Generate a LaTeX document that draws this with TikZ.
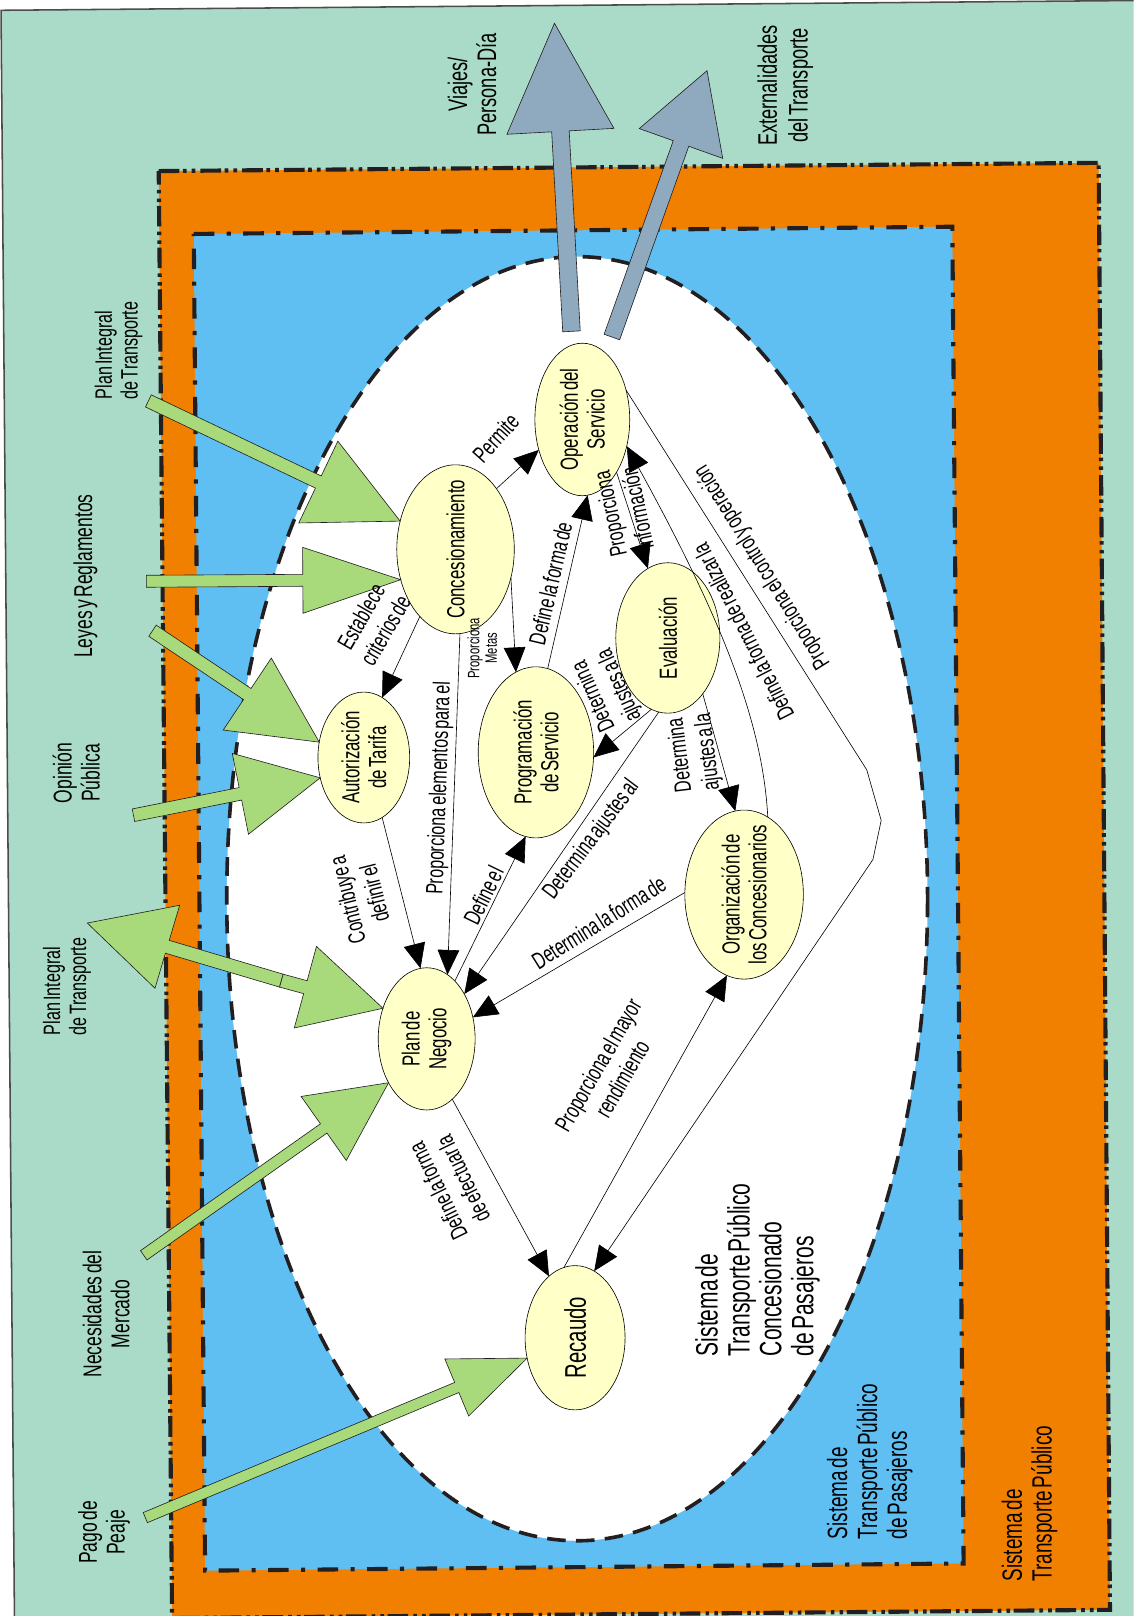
\documentclass[tikz,border=0pt]{standalone}
\usepackage{fontspec}
\newfontfamily\cf[FakeStretch=0.68,WordSpace=0.5]{Liberation Sans}
\usetikzlibrary{arrows.meta,calc,shapes.geometric}
\definecolor{bggreen}{HTML}{A9DBC8}
\definecolor{orng}{HTML}{F28000}
\definecolor{blu}{HTML}{5FBEF2}
\definecolor{nodey}{HTML}{FFFFC8}
\definecolor{garr}{HTML}{A8DA7C}
\definecolor{barr}{HTML}{8FAABE}
\definecolor{ink}{HTML}{231F20}
% #1 style, #2 tail, #3 tip, #4 shaft half width, #5 head half width, #6 head length, #7 name
\newcommand\bigarrow[7]{%
  \coordinate (#7b) at ($(#3)!#6!(#2)$);
  \filldraw[#1] ($(#2)!#4!90:(#3)$) -- ($(#7b)!#4!-90:(#2)$) -- ($(#7b)!#5!-90:(#2)$) -- (#3)
    -- ($(#7b)!#5!90:(#2)$) -- ($(#7b)!#4!90:(#2)$) -- ($(#2)!#4!-90:(#3)$) -- cycle;}
\begin{document}
\begin{tikzpicture}[x=1pt,y=-1pt,
  ell/.style={ellipse, draw=black, line width=0.6pt, fill=nodey, inner sep=0pt, outer sep=0pt},
  edge/.style={draw=black, line width=0.6pt, -{Triangle[length=24pt,width=21pt]}},
  nt/.style={font=\cf\fontsize{24}{26}\selectfont, align=center, inner sep=0pt},
  el/.style={font=\cf\fontsize{23}{27}\selectfont, align=center, inner sep=0pt},
  ol/.style={font=\cf\fontsize{25}{27}\selectfont, inner sep=0pt, rotate=90, align=center},
  garrow/.style={fill=garr, draw=ink, line width=0.6pt},
  barrow/.style={fill=barr, draw=ink, line width=0.6pt}]
\useasboundingbox (0,0) rectangle (1100,1568);
% background
\fill[white] (0,0) rectangle (1100,1568);
\fill[bggreen] (1,10) -- (1100,0.5) -- (1100,1568) -- (14,1568) -- cycle;
\draw[black!70, line width=1.5pt] (14,1568) -- (1,10) -- (1100,0.5);
% system frames
\filldraw[fill=orng, draw=ink, line width=4pt, dash pattern=on 20pt off 3.5pt on 3.5pt off 5pt on 3.5pt off 5pt]
  (154,166) -- (1066,158) -- (1077,1562) -- (167,1570) -- cycle;
\filldraw[fill=blu, draw=ink, line width=4pt, dash pattern=on 20pt off 12pt on 4pt off 12pt]
  (188,227) -- (924,220) -- (935,1517) -- (199,1524) -- cycle;
\filldraw[fill=white, draw=ink, line width=3.5pt, dash pattern=on 18pt off 10pt]
  (560,872) ellipse [x radius=340, y radius=623];
% nodes
\node[ell, minimum width=114pt, minimum height=164pt, label={[nt,rotate=90]center:Concesionamiento}] (conc) at (442,533) {};
\node[ell, minimum width=92pt, minimum height=148pt, label={[nt,rotate=90]center:Operación del\\Servicio}] (op) at (565,407) {};
\node[ell, minimum width=101pt, minimum height=146pt, label={[nt,rotate=90]center:Evaluación}] (ev) at (648,619) {};
\node[ell, minimum width=89pt, minimum height=127pt, label={[nt,rotate=90]center:Autorización\\de Tarifa}] (aut) at (353,735) {};
\node[ell, minimum width=112pt, minimum height=166pt, label={[nt,rotate=90]center:Programación\\de Servicio}] (prog) at (520,730) {};
\node[ell, minimum width=94pt, minimum height=138pt, label={[nt,rotate=90]center:Plan de\\Negocio}] (plan) at (414,1008) {};
\node[ell, minimum width=115pt, minimum height=164pt, label={[nt,rotate=90]center:Organización de\\los Concesionarios}] (org) at (722,868) {};
\node[ell, minimum width=97pt, minimum height=140pt, label={[nt,font=\cf\fontsize{29}{31}\selectfont,rotate=90]center:Recaudo}] (rec) at (558,1298) {};
% helper coordinates
\coordinate (k1) at (740,700);
\coordinate (k2) at (700,600);
\coordinate (c1) at (841,747);
\coordinate (c2) at (855,796);
\coordinate (c3) at (847,834);
% connectors
\draw[edge] (conc.56) -- (op.215);
\draw[edge] (conc.242) -- (aut.73);
\draw[edge] (conc.333) -- (prog.104);
\draw[edge] (conc.273) -- (plan.72);
\draw[edge] (aut.287) -- (plan.95);
\draw[edge] (plan.64) -- (prog.263);
\draw[edge] (ev.263) -- (plan.50);
\draw[edge] (org.178) -- (plan.25);
\draw[edge] (ev.257) -- (prog.355);
\draw[edge] (ev.302) -- (org.96);
\draw[edge] (prog.82) -- (op.274);
\draw[edge] (op.303) -- (ev.106);
\draw[edge] (org.73) .. controls (k1) and (k2) .. (op.329);
\draw[edge] (op.34) -- (c1) -- (c2) -- (c3) -- (rec.74);
\draw[edge] (rec.99) -- (org.258);
\draw[edge] (plan.293) -- (rec.113);
% output arrows
\coordinate (g1t) at (554.5,321.5);
\coordinate (g1h) at (538,22.6);
\coordinate (g2t) at (593.7,327);
\coordinate (g2h) at (686,68.6);
\bigarrow{barrow}{g1t}{g1h}{8.5pt}{52pt}{105pt}{gaa}
\bigarrow{barrow}{g2t}{g2h}{8pt}{43pt}{75pt}{gab}
% input arrows
\coordinate (ta) at (144,389);
\coordinate (tb) at (142,564);
\coordinate (tc) at (148,612);
\coordinate (td) at (129.5,791);
\coordinate (te) at (273,951.5);
\coordinate (pe) at (84.7,895.6);
\coordinate (tg) at (139.5,1218);
\coordinate (th) at (141,1472.5);
\bigarrow{garrow}{ta}{conc.153}{6.5pt}{44pt}{88pt}{gra}
\bigarrow{garrow}{tb}{conc.209}{5.8pt}{32pt}{95pt}{grb}
\bigarrow{garrow}{tc}{aut.161}{6.5pt}{42pt}{84pt}{grc}
\bigarrow{garrow}{td}{aut.205}{6.2pt}{40pt}{79pt}{grd}
\bigarrow{garrow}{te}{pe}{6.5pt}{42pt}{81pt}{gre}
\bigarrow{garrow}{te}{plan.145}{6.5pt}{41pt}{78pt}{grf}
\bigarrow{garrow}{tg}{plan.229}{5.5pt}{38pt}{77pt}{grg}
\bigarrow{garrow}{th}{rec.203}{5.3pt}{30pt}{74pt}{grh}
% connector labels
\node[el, rotate=48] (lperm) at (481,425) {Permite};
\node[el, rotate=60] (lest) at (362,605) {Establece\\criterios de};
\node[font=\cf\fontsize{16}{17}\selectfont, align=center, inner sep=0pt, rotate=90] (lmet) at (468,629) {Proporciona\\Metas};
\node[el, rotate=88] (lelem) at (427,765) {Proporciona elementos para el};
\node[el, rotate=104] (lcont) at (350,870) {Contribuye a\\definir el};
\node[el, rotate=64] (ldefel) at (469,869) {Define el};
\node[el, rotate=53] (ldajal) at (574,815) {Determina ajustes al};
\node[el, rotate=32] (ldlfd) at (581,895) {Determina la forma de};
\node[el, rotate=114] (ldaja) at (589,670) {Determina\\ajustes a la};
\node[el, rotate=97] (ldajb) at (674,731) {Determina\\ajustes a la};
\node[el, rotate=77] (ldlf) at (534,566) {Define la forma de};
\node[el, rotate=102] (lpinf) at (605,496) {Proporciona\\información};
\node[el, rotate=117] (ldreal) at (721,613) {Define la forma de realizar la};
\node[el, rotate=122] (lctrl) at (740,550) {Proporciona el control y operación};
\node[el, rotate=60] (lrend) at (592,1040) {Proporciona el mayor\\rendimiento};
\node[el, rotate=116] (lefec) at (437,1150) {Define la forma\\de efectuar la};
% outside labels
\node[ol, font=\cf\fontsize{23}{25}\selectfont, align=left] (pita) at (115,340) {Plan Integral\\de Transporte};
\node[ol] (leyes) at (83,559) {Leyes y Reglamentos};
\node[ol] (opin) at (74,750) {Opinión\\Pública};
\node[ol, font=\cf\fontsize{23}{25}\selectfont, align=left] (pitb) at (65,957) {Plan Integral\\de Transporte};
\node[ol] (neces) at (103,1275) {Necesidades del\\Mercado};
\node[ol] (pago) at (101,1487) {Pago de\\Peaje};
\node[ol, font=\cf\fontsize{26}{28}\selectfont] (viajes) at (458,82) {Viajes/\\Persona-Día};
\node[ol, font=\cf\fontsize{26}{30}\selectfont] (extern) at (762,83) {Externalidades\\del Transporte};
% system labels
\node[ol, font=\cf\fontsize{27}{29}\selectfont, align=left] (stp) at (999,1459) {Sistema de\\Transporte Público};
\node[ol, font=\cf\fontsize{27}{29}\selectfont, align=left] (stpp) at (844,1418) {Sistema de\\Transporte Público\\de Pasajeros};
\node[ol, font=\cf\fontsize{30}{31}\selectfont, align=left] (stpc) at (735,1232) {Sistema de\\Transporte Público\\Concesionado\\de Pasajeros};
\end{tikzpicture}
\end{document}
